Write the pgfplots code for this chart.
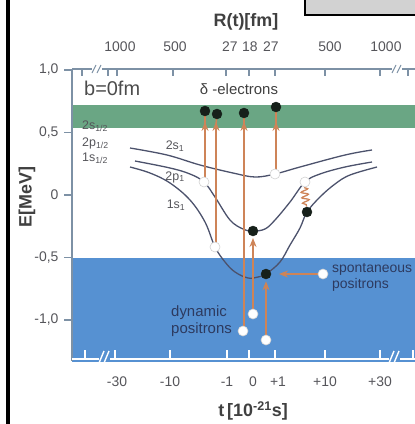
\documentclass[border=0pt]{standalone}
\usepackage{fontspec}
\setmainfont{Liberation Sans}
\usepackage{pgfplots}
\pgfplotsset{compat=1.18}
\usetikzlibrary{arrows.meta,decorations.pathmorphing}

\definecolor{bandgreen}{RGB}{106,166,132}
\definecolor{bandblue}{RGB}{86,145,210}
\definecolor{curvec}{RGB}{76,82,108}
\definecolor{arrowc}{RGB}{206,132,88}
\definecolor{axisgray}{RGB}{125,145,165}
\definecolor{ticktext}{RGB}{85,85,90}
\definecolor{labelblue}{RGB}{45,58,95}
\definecolor{dotblack}{RGB}{22,32,26}

\begin{document}
\begin{tikzpicture}
\path[use as bounding box] (0,0) rectangle (415bp,-424bp);

\begin{axis}[
at={(72bp,-360bp)}, anchor=south west,
scale only axis,
width=343bp, height=292bp,
xmin=72, xmax=415,
ymin=-1.32, ymax=1.016,
clip=false,
axis line style={draw=none},
major tick length=0pt,
xtick={117,170,227,253,278,325,380},
xticklabels={-30,-10,-1,0,+1,+10,+30},
ytick={-1,-0.5,0,0.5,1},
yticklabels={{-1,0},{-0,5},{0},{0,5},{1,0}},
tick label style={font=\fontsize{14}{16}\selectfont, text=ticktext},
xticklabel style={yshift=-13bp},
yticklabel style={xshift=-10bp},
]

% continua
\addplot [draw=none, fill=bandgreen] coordinates {(72,0.536) (415,0.536) (415,0.72) (72,0.72)} -- cycle;
\addplot [draw=none, fill=bandblue] coordinates {(72,-0.5) (415,-0.5) (415,-1.336) (72,-1.336)} -- cycle;

% levels
\addplot [curvec, line width=1.3bp, smooth, tension=0.6] coordinates {
(130,0.376) (167,0.32) (200,0.24) (233,0.176) (255,0.144) (275,0.168) (300,0.224) (345,0.32) (372,0.36)};
\addplot [curvec, line width=1.3bp, smooth, tension=0.6] coordinates {
(135,0.272) (170,0.216) (190,0.168) (204,0.104) (215,-0.016) (230,-0.2) (243,-0.272) (253,-0.288) (265,-0.272) (275,-0.2) (290,-0.056) (305,0.104) (320,0.168) (345,0.224) (372,0.264)};
\addplot [curvec, line width=1.3bp, smooth, tension=0.6] coordinates {
(130,0.224) (150,0.176) (170,0.096) (190,-0.04) (205,-0.216) (215,-0.416) (225,-0.536) (235,-0.616) (248,-0.664) (258,-0.656) (266,-0.632) (280,-0.536) (290,-0.4) (300,-0.264) (307,-0.136) (320,-0.016) (335,0.088) (350,0.16) (377,0.224)};

% transitions
\pgfplotsset{trans/.style={arrowc, line width=1.5bp}, transarr/.style={trans, -{Stealth[length=9bp,width=7bp]}}}
\addplot [transarr] coordinates {(205,0.104) (205,0.585)};
\addplot [trans] coordinates {(205,0.56) (205,0.672)};
\addplot [transarr] coordinates {(216,-0.416) (216,0.585)};
\addplot [trans] coordinates {(216,0.56) (217,0.648)};
\addplot [transarr] coordinates {(244,-1.088) (244,0.585)};
\addplot [trans] coordinates {(244,0.56) (244,0.656)};
\addplot [transarr] coordinates {(276,0.168) (276,0.585)};
\addplot [trans] coordinates {(276,0.56) (276,0.704)};
\addplot [transarr] coordinates {(253,-0.952) (253,-0.344)};
\addplot [transarr] coordinates {(266,-1.16) (266,-0.69)};
\addplot [transarr] coordinates {(321,-0.632) (279,-0.632)};
\addplot [arrowc, line width=1.3bp, decorate, decoration={snake, segment length=5.5bp, amplitude=3.5bp}] coordinates {(304,0.06) (306.5,-0.092)};

% occupied / final states
\addplot [only marks, mark=*, mark size=5bp, mark options={fill=dotblack, draw=dotblack}] coordinates {
(205,0.672) (217,0.648) (244,0.656) (276,0.704) (253,-0.288) (266,-0.632) (307,-0.136)};
% holes / initial states
\addplot [only marks, mark=*, mark size=5bp, mark options={fill=white, draw=gray!35, line width=0.6bp}] coordinates {
(204,0.104) (215,-0.416) (275,0.168) (305,0.104) (243,-1.088) (253,-0.952) (266,-1.16) (323,-0.632)};

\end{axis}

\begin{scope}[x=1bp, y=-1bp]
% frame pieces of the scan
\draw[black, line width=3bp] (8,0) -- (8,424);
\draw[black, line width=1.2bp, fill=gray!35] (305,-5) rectangle (420,15);

% left axis
\draw[axisgray, line width=1.6bp] (72,69) -- (72,361);
\foreach \py in {70,132.5,195,257.5,320} \draw[axisgray, line width=1.6bp] (64,\py) -- (72,\py);

% top axis with R(t) ticks
\draw[axisgray, line width=1.6bp] (72,69) -- (415,69);
\foreach \px in {82,108,117,173,226,249,275,325,380,408} \draw[axisgray, line width=1.6bp] (\px,69) -- (\px,76);
\fill[white] (92,66) rectangle (102,72);
\fill[white] (392,66) rectangle (402,72);
\draw[axisgray, line width=1bp] (92,73) -- (96,65) (97,73) -- (101,65);
\draw[axisgray, line width=1bp] (392,73) -- (396,65) (397,73) -- (401,65);

% bottom axis (white on the blue)
\draw[white, line width=2bp] (72,359) -- (415,359);
\foreach \px in {85,115,170,227,249,275,325,380,413} \draw[white, line width=2bp] (\px,359) -- (\px,350);
\fill[bandblue] (99,354) rectangle (110,360.2);
\fill[bandblue] (389,354) rectangle (400,360.2);
\draw[white, line width=1.4bp] (99,363) -- (104,351) (104,363) -- (109,351);
\draw[white, line width=1.4bp] (389,363) -- (394,351) (394,363) -- (399,351);

% axis titles
\node[font=\bfseries\fontsize{18}{20}\selectfont, text=black!75] at (246,22) {R(t)[fm]};
\node[font=\bfseries\fontsize{18}{20}\selectfont, text=black!75] at (253,411) {t\,[10\textsuperscript{-21}s]};
\node[font=\bfseries\fontsize{18}{20}\selectfont, text=black!75, rotate=90] at (27,197) {E[MeV]};

% top tick labels
\foreach \px/\lab in {120/1000,175/500,230/27,250/18,271/27,330/500,386/1000}
  \node[font=\fontsize{14}{16}\selectfont, text=ticktext] at (\px,47) {\lab};

% annotations
\node[font=\fontsize{20}{22}\selectfont, text=black!70, anchor=west, inner sep=0] at (84,88) {b=0fm};
\node[font=\fontsize{15}{17}\selectfont, text=black!75] at (239,89) {δ -electrons};
\node[font=\fontsize{14}{16}\selectfont, text=labelblue, anchor=west, inner sep=0, align=left] at (332,277) {spontaneous\\positrons};
\node[font=\fontsize{15}{17}\selectfont, text=labelblue, anchor=west, inner sep=0, align=left] at (171,321) {dynamic\\positrons};

% level labels
\foreach \py/\lab in {126/2s,143/2p,158/1s}
  \node[font=\fontsize{12.5}{13}\selectfont, text=ticktext, anchor=west, inner sep=0] at (82,\py) {\lab\textsubscript{1/2}};
\node[font=\fontsize{12.5}{13}\selectfont, text=ticktext] at (175,146) {2s\textsubscript{1}};
\node[font=\fontsize{12.5}{13}\selectfont, text=ticktext] at (175,177) {2p\textsubscript{1}};
\node[font=\fontsize{12.5}{13}\selectfont, text=ticktext] at (176,205) {1s\textsubscript{1}};
\end{scope}
\end{tikzpicture}
\end{document}
